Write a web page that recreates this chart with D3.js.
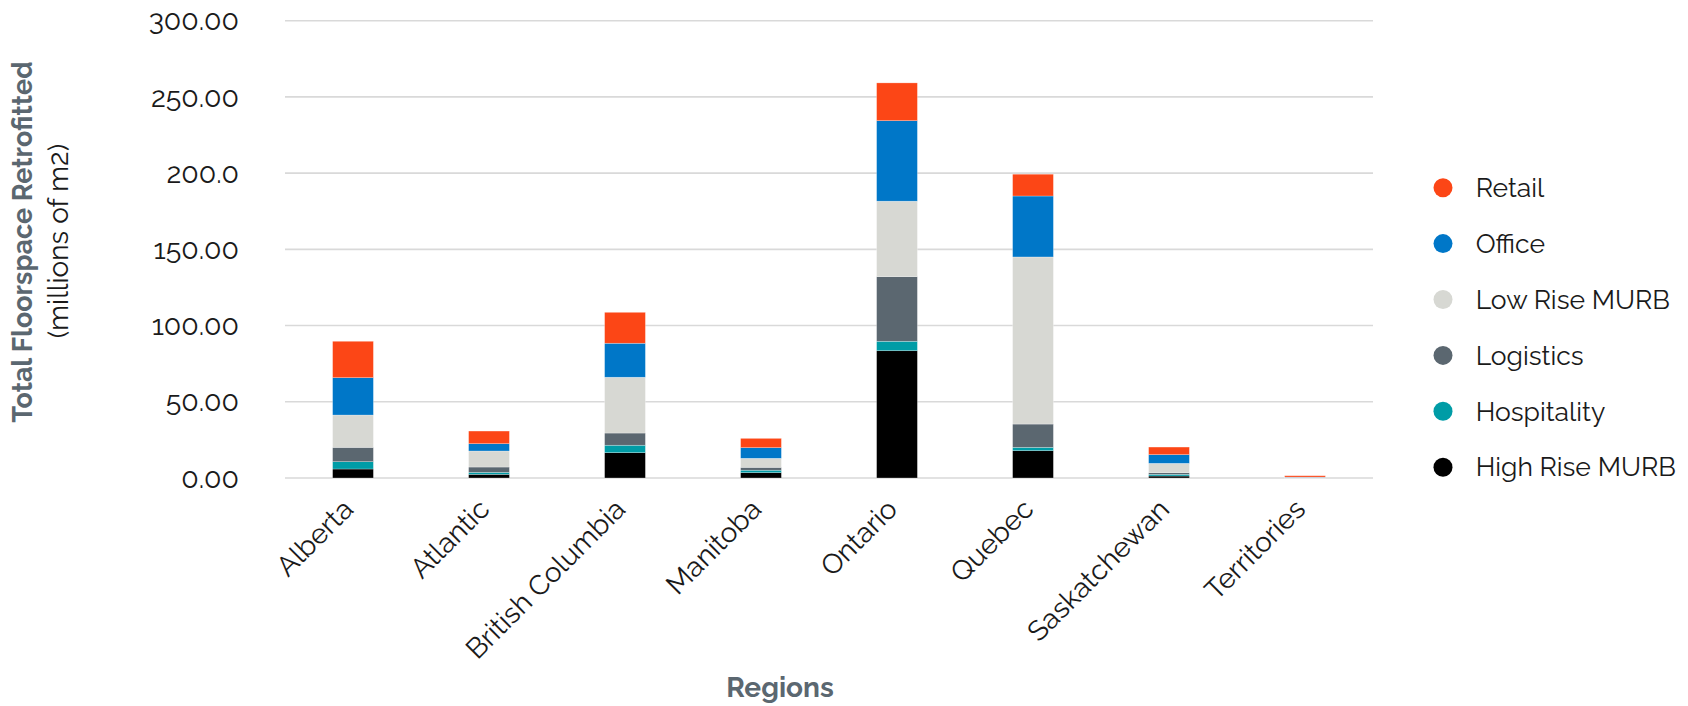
<!DOCTYPE html>
<html>
<head>
<meta charset="utf-8">
<script src="https://cdn.jsdelivr.net/npm/d3@7"></script>
<style>
html, body { margin: 0; padding: 0; background: #fff; }
svg { display: block; font-family: Raleway, Lato, sans-serif; }
</style>
</head>
<body>
<svg id="chart" width="1688" height="706"></svg>
<script>
const regions = ["Alberta", "Atlantic", "British Columbia", "Manitoba", "Ontario", "Quebec", "Saskatchewan", "Territories"];
const seriesNames = ["High Rise MURB", "Hospitality", "Logistics", "Low Rise MURB", "Office", "Retail"];
const highRiseMURB = [5.9, 2.4, 16.6, 3.5, 83.5, 17.9, 1.3, 0.05];
const hospitality  = [4.8, 1.3, 4.9, 1.6, 6.2, 2.2, 1.1, 0.05];
const logistics    = [9.4, 3.5, 8.0, 1.9, 42.4, 15.3, 1.1, 0.1];
const lowRiseMURB  = [21.2, 10.5, 36.6, 5.9, 49.5, 109.6, 6.1, 0.2];
const office       = [24.5, 4.8, 22.3, 7.0, 52.8, 40.0, 5.7, 0.2];
const retail       = [23.9, 8.3, 20.3, 6.1, 24.8, 14.3, 5.0, 0.9];
const yTickValues  = [0, 50, 100, 150, 200, 250, 300];
const yTickLabels  = ["0.00", "50.00", "100.00", "150.00", "200.0", "250.00", "300.00"];
const colors = ["#000000", "#009CA6", "#5B6770", "#D7D8D3", "#0077C8", "#FC4616"];
const legendOrder = ["Retail", "Office", "Low Rise MURB", "Logistics", "Hospitality", "High Rise MURB"];

const seriesValues = [highRiseMURB, hospitality, logistics, lowRiseMURB, office, retail];
const rows = regions.map((r, i) => {
  const o = { region: r };
  seriesNames.forEach((s, j) => { o[s] = seriesValues[j][i]; });
  return o;
});

const svg = d3.select("#chart");
const plotLeft = 285, plotRight = 1373, plotTop = 20.7, plotBottom = 478;

const x = d3.scaleBand().domain(regions).range([plotLeft, plotRight]).paddingInner(0.7).paddingOuter(0.35);
const y = d3.scaleLinear().domain([0, 300]).range([plotBottom, plotTop]);
const color = d3.scaleOrdinal().domain(seriesNames).range(colors);

// gridlines
svg.append("g")
  .selectAll("line")
  .data(yTickValues)
  .join("line")
  .attr("x1", plotLeft).attr("x2", plotRight)
  .attr("y1", d => y(d)).attr("y2", d => y(d))
  .attr("stroke", "#d9d9d9").attr("stroke-width", 1.6);

// y axis labels
const yAxis = d3.axisLeft(y).tickValues(yTickValues).tickFormat((d, i) => yTickLabels[i]).tickSize(0).tickPadding(0);
const yg = svg.append("g").attr("transform", `translate(239,0)`).call(yAxis);
yg.select(".domain").remove();
yg.selectAll("text").attr("font-size", 28.5).attr("fill", "#1a1a1a").attr("font-family", "Raleway, Lato, sans-serif");

// stacked bars
const stack = d3.stack().keys(seriesNames);
const stacked = stack(rows);
svg.append("g")
  .selectAll("g")
  .data(stacked)
  .join("g")
  .attr("fill", d => color(d.key))
  .selectAll("rect")
  .data(d => d)
  .join("rect")
  .attr("x", d => x(d.data.region))
  .attr("width", x.bandwidth())
  .attr("y", d => y(d[1]))
  .attr("height", d => Math.max(0, y(d[0]) - y(d[1])))
  .attr("stroke", "rgba(255,255,255,0.45)")
  .attr("stroke-width", 0.6);

// x axis labels
const xAxis = d3.axisBottom(x).tickSize(0).tickPadding(0);
const xg = svg.append("g").attr("transform", `translate(0,${plotBottom})`).call(xAxis);
xg.select(".domain").remove();
xg.selectAll("text")
  .attr("font-size", 28)
  .attr("fill", "#1a1a1a")
  .attr("font-family", "Raleway, Lato, sans-serif")
  .attr("text-anchor", "end")
  .attr("dy", null)
  .attr("y", 0)
  .attr("transform", "translate(2,33) rotate(-45)");

// axis titles
svg.append("text")
  .attr("transform", "translate(32,242) rotate(-90)")
  .attr("text-anchor", "middle")
  .attr("font-size", 27).attr("font-weight", "bold").attr("fill", "#5B6770")
  .text("Total Floorspace Retrofitted");
svg.append("text")
  .attr("transform", "translate(68,241) rotate(-90)")
  .attr("text-anchor", "middle")
  .attr("font-size", 28).attr("fill", "#1a1a1a")
  .text("(millions of m2)");
svg.append("text")
  .attr("x", 780).attr("y", 697)
  .attr("text-anchor", "middle")
  .attr("font-size", 28).attr("font-weight", "bold").attr("fill", "#5B6770")
  .text("Regions");

// legend
const lg = svg.append("g")
  .selectAll("g")
  .data(legendOrder)
  .join("g")
  .attr("transform", (d, i) => `translate(1443,${187.7 + i * 55.9})`);
lg.append("circle").attr("r", 9.5).attr("fill", d => color(d));
lg.append("text")
  .attr("x", 32.7).attr("dy", "0.35em")
  .attr("font-size", 26.5).attr("fill", "#1a1a1a")
  .text(d => d);
</script>
</body>
</html>
